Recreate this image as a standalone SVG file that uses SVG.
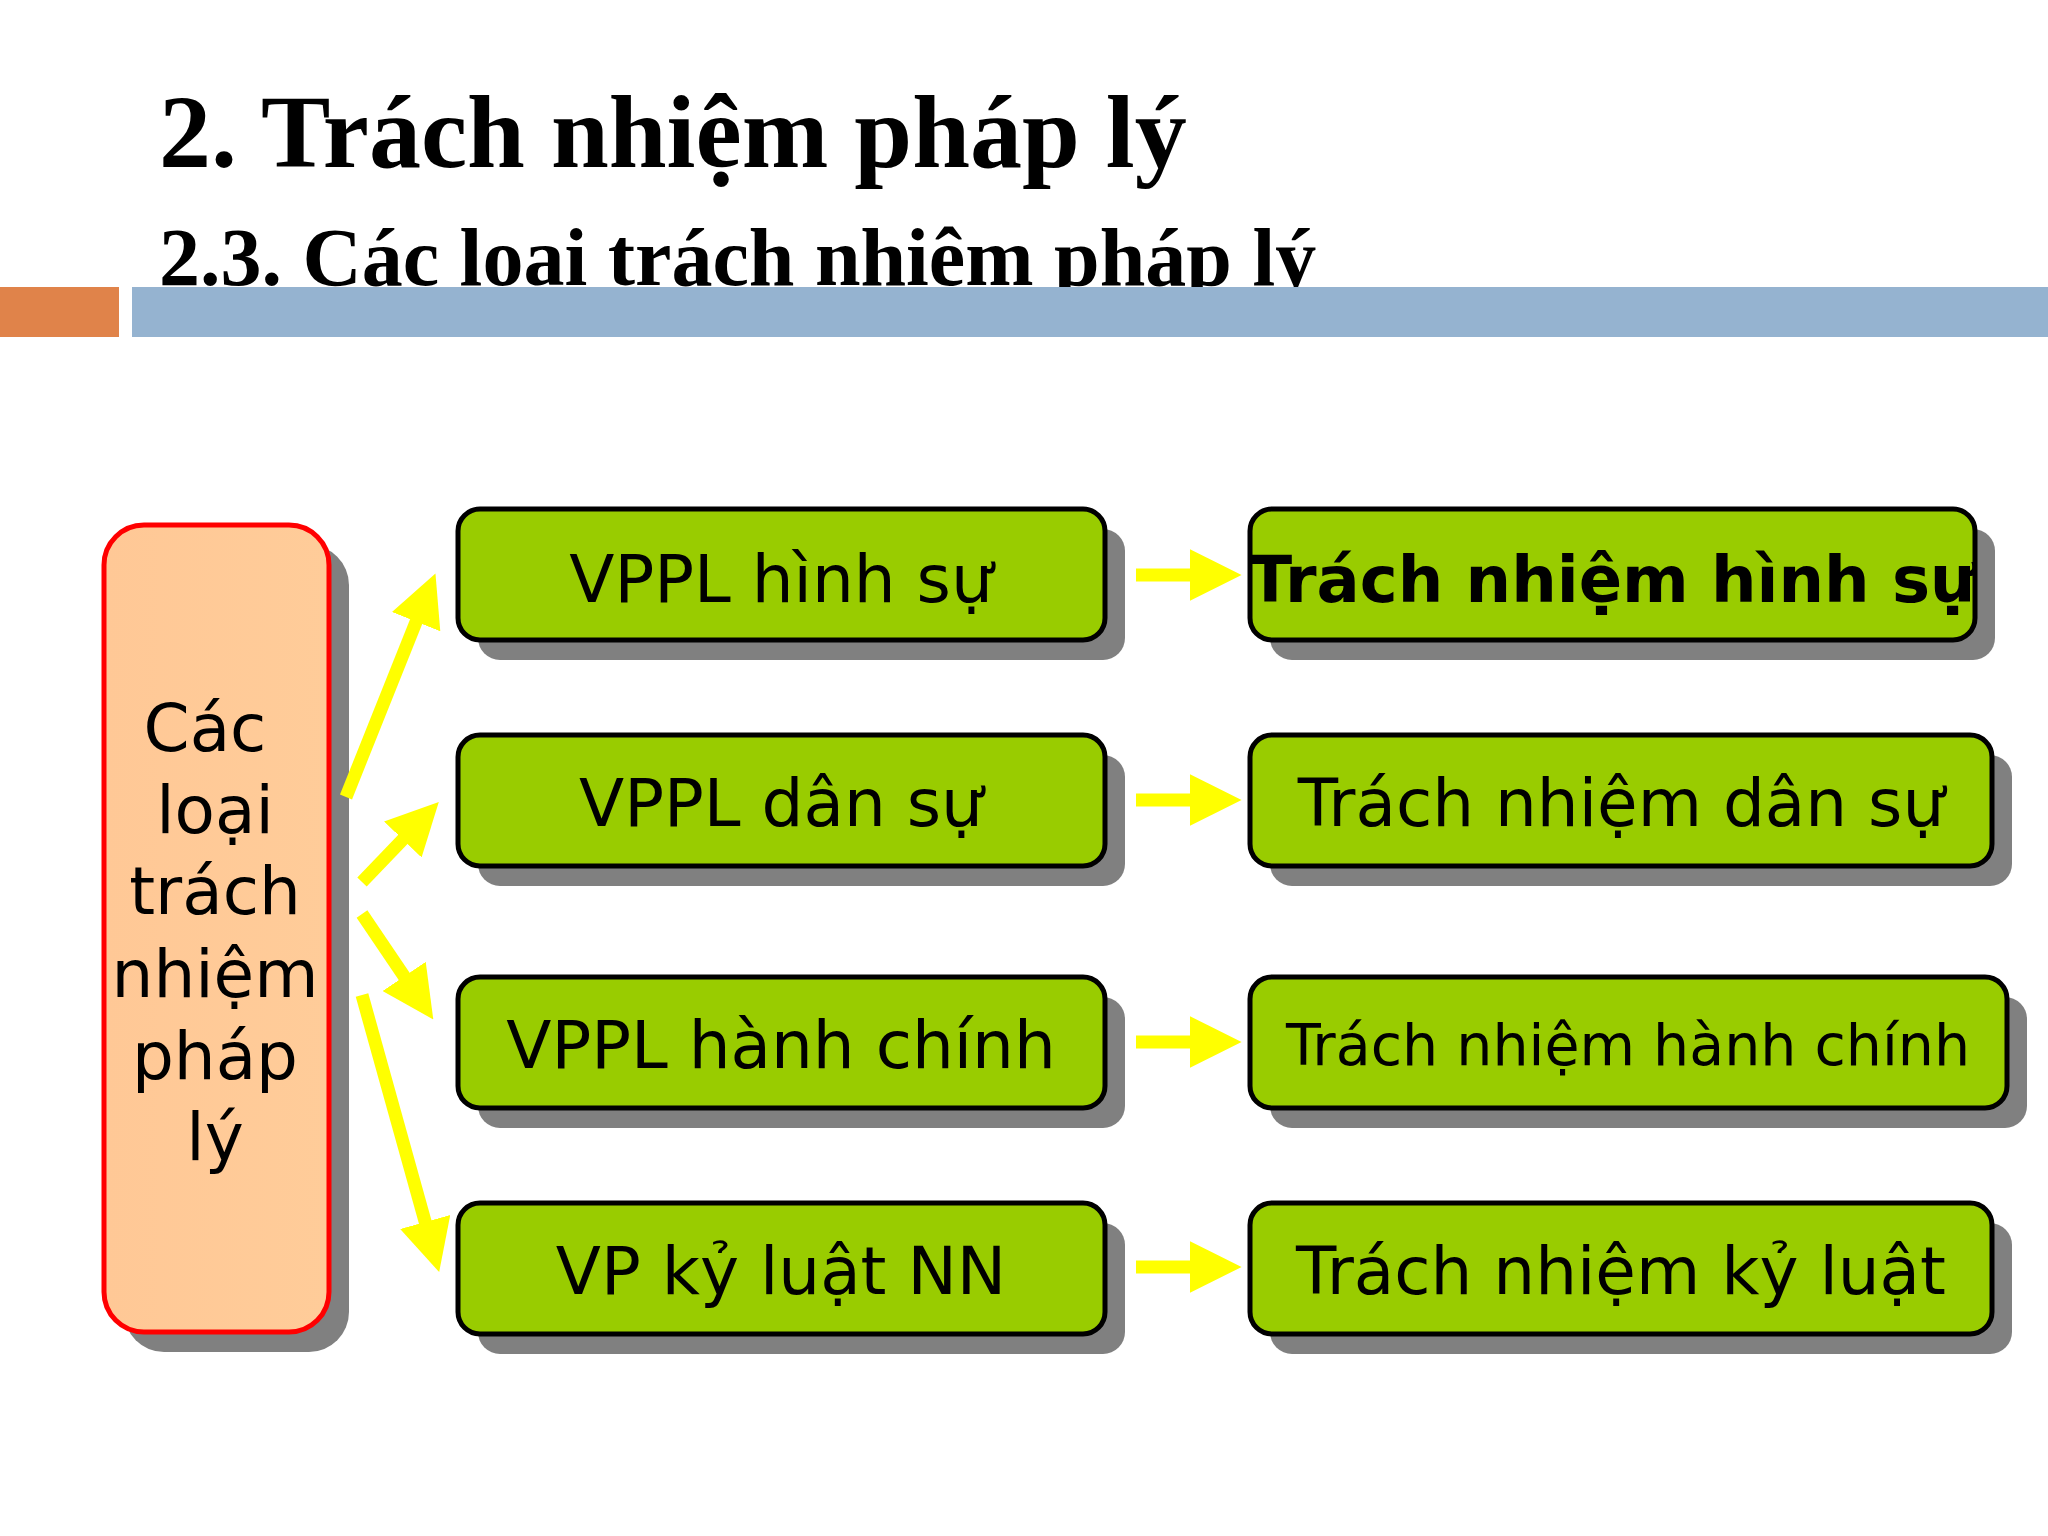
<svg xmlns="http://www.w3.org/2000/svg" width="2048" height="1536" viewBox="0 0 2048 1536">
<defs>
<style>
.box{fill:#99CC00;stroke:#000;stroke-width:5}
.sh{fill:#808080}
.t{font-family:"DejaVu Sans","Noto Sans",sans-serif;fill:#000;text-anchor:middle}
.ar{stroke:#FFFF00;stroke-width:13;fill:none;marker-end:url(#ah)}
</style>
<marker id="ah" viewBox="0 0 10 10" refX="2" refY="5" markerWidth="4" markerHeight="4" orient="auto" markerUnits="strokeWidth">
<path d="M0,0 L10,5 L0,10 z" fill="#FFFF00"/>
</marker>
<linearGradient id="lg" x1="0" y1="0" x2="1" y2="0">
<stop offset="0" stop-color="#FFC896"/><stop offset="1" stop-color="#FFCC99"/>
</linearGradient>
</defs>
<rect width="2048" height="1536" fill="#FFFFFF"/>
<text x="159" y="167" font-family="Liberation Serif,serif" font-weight="bold" font-size="104">2. Trách nhiệm pháp lý</text>
<text x="159" y="285" font-family="Liberation Serif,serif" font-weight="bold" font-size="82">2.3. Các loại trách nhiệm pháp lý</text>
<rect x="0" y="287" width="119" height="50" fill="#E0834A"/>
<rect x="132" y="287" width="1916" height="50" fill="#95B3D0"/>
<g id="left">
<rect x="124" y="545" width="225" height="807" rx="40" class="sh"/>
<rect x="104" y="525" width="225" height="807" rx="40" fill="url(#lg)" stroke="#FF0000" stroke-width="5"/>
<text class="t" font-size="66"><tspan x="205" y="751">Các</tspan><tspan x="215" y="833">loại</tspan><tspan x="215" y="914">trách</tspan><tspan x="215" y="997">nhiệm</tspan><tspan x="215" y="1079">pháp</tspan><tspan x="215" y="1160">lý</tspan></text>
</g>
<g id="m1"><rect x="478" y="529" width="647" height="131" rx="22" class="sh"/><rect x="458" y="509" width="647" height="131" rx="22" class="box"/><text class="t" x="781" y="602" font-size="66">VPPL hình sự</text></g>
<g id="m2"><rect x="478" y="755" width="647" height="131" rx="22" class="sh"/><rect x="458" y="735" width="647" height="131" rx="22" class="box"/><text class="t" x="781" y="826" font-size="66">VPPL dân sự</text></g>
<g id="m3"><rect x="478" y="997" width="647" height="131" rx="22" class="sh"/><rect x="458" y="977" width="647" height="131" rx="22" class="box"/><text class="t" x="781" y="1068" font-size="66">VPPL hành chính</text></g>
<g id="m4"><rect x="478" y="1223" width="647" height="131" rx="22" class="sh"/><rect x="458" y="1203" width="647" height="131" rx="22" class="box"/><text class="t" x="781" y="1294" font-size="66">VP kỷ luật NN</text></g>
<g id="r1"><rect x="1270" y="529" width="725" height="131" rx="22" class="sh"/><rect x="1250" y="509" width="725" height="131" rx="22" class="box"/><text class="t" x="1612" y="602" font-size="64" font-weight="bold">Trách nhiệm hình sự</text></g>
<g id="r2"><rect x="1270" y="755" width="742" height="131" rx="22" class="sh"/><rect x="1250" y="735" width="742" height="131" rx="22" class="box"/><text class="t" x="1621" y="826" font-size="66">Trách nhiệm dân sự</text></g>
<g id="r3"><rect x="1270" y="997" width="757" height="131" rx="22" class="sh"/><rect x="1250" y="977" width="757" height="131" rx="22" class="box"/><text class="t" x="1628" y="1065" font-size="57">Trách nhiệm hành chính</text></g>
<g id="r4"><rect x="1270" y="1223" width="742" height="131" rx="22" class="sh"/><rect x="1250" y="1203" width="742" height="131" rx="22" class="box"/><text class="t" x="1621" y="1294" font-size="66">Trách nhiệm kỷ luật</text></g>
<g id="connectors">
<path class="ar" d="M346,797 L420,612"/>
<path class="ar" d="M362,882 L410,832"/>
<path class="ar" d="M362,914 L410,985"/>
<path class="ar" d="M362,995 L428,1232"/>
<path class="ar" d="M1136,575 L1200,575"/>
<path class="ar" d="M1136,800 L1200,800"/>
<path class="ar" d="M1136,1042 L1200,1042"/>
<path class="ar" d="M1136,1267 L1200,1267"/>
</g>
</svg>
